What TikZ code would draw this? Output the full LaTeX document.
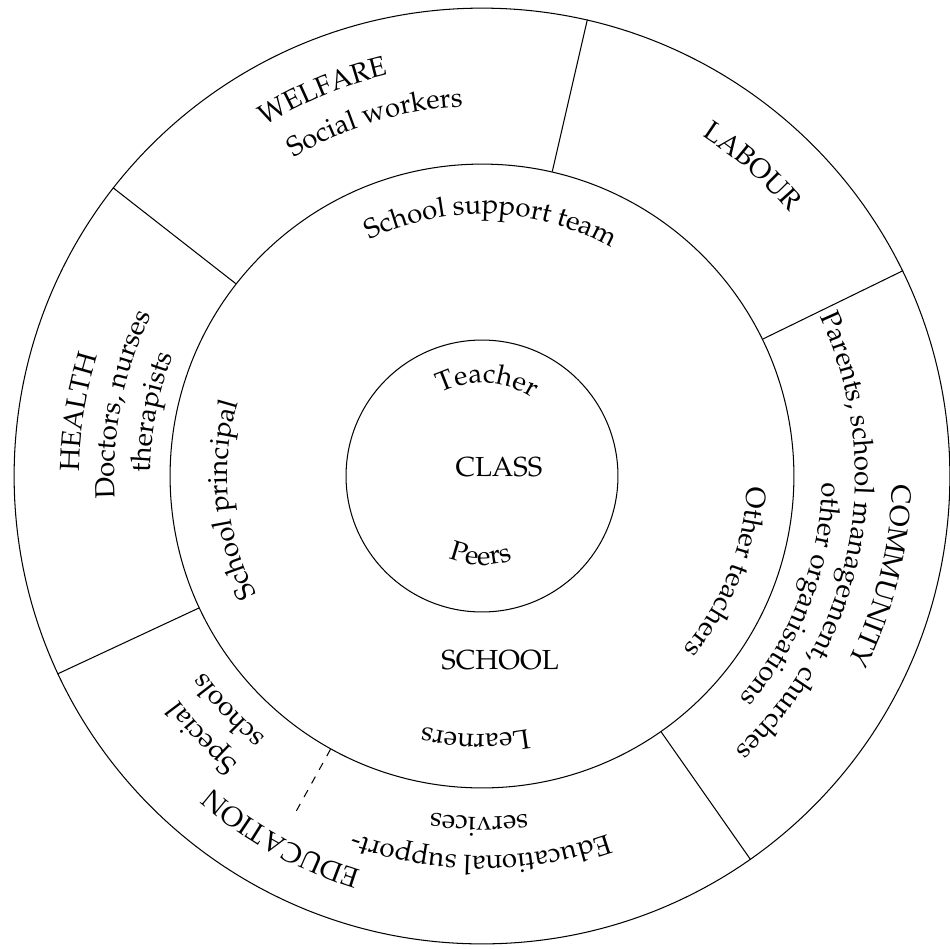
\documentclass[tikz,border=0pt]{standalone}
\usepackage[T1]{fontenc}
\usepackage{mathpazo}
\usetikzlibrary{decorations.text}
\AtBeginDocument{\fontsize{10.6}{12.7}\selectfont}

% text on a clockwise arc (letters point outwards): radius, middle angle, text
\newcommand{\cwtext}[3]{%
  \path[decorate,decoration={text along path,text align=center,text={#3}}]
    ({#2+60}:#1) arc[start angle={#2+60},end angle={#2-60},radius=#1];}
% text on an anticlockwise arc (letters point inwards)
\newcommand{\ccwtext}[3]{%
  \path[decorate,decoration={text along path,text align=center,text={#3}}]
    ({#2-60}:#1) arc[start angle={#2-60},end angle={#2+60},radius=#1];}

\begin{document}
\begin{tikzpicture}[x=0.0135cm,y=0.0135cm,
      ring/.style={circle,draw,inner sep=0pt}]

    \useasboundingbox (-482,-472) rectangle (468,476);

    \node[ring,minimum size=12.636cm] (outer) at (0,0) {};
    \node[ring,minimum size=8.424cm] (mid) at (0,0) {};
    \node[ring,minimum size=3.672cm] (class) at (0,0) {};

    % sectors of the outer ring
    \draw (mid.142.2) -- (outer.142.2);
    \draw (mid.77.1) -- (outer.77.1);
    \draw (mid.26.9) -- (outer.26.9);
    \draw (mid.305.6) -- (outer.305.6);
    \draw (mid.205.1) -- (outer.205.1);
    \coordinate (special) at (241:388);
    \draw[dashed] (mid.241) -- (special);

    \node (CLASS) at (17,9) {CLASS};
    \node (SCHOOL) at (18,-184) {SCHOOL};

    \cwtext{93}{87}{Teacher}
    \ccwtext{89}{269}{Peers}

    \cwtext{262}{88}{School support team}
    \cwtext{255}{185.5}{School principal}
    \cwtext{265}{-21.5}{Other teachers}
    \cwtext{258}{268.5}{Learners}

    \cwtext{412}{112.5}{WELFARE}
    \cwtext{370}{106.8}{Social workers}
    \cwtext{405}{48.9}{LABOUR}
    \cwtext{410}{-14}{COMMUNITY}
    \cwtext{373}{-11}{Parents, school management, churches}
    \cwtext{340}{-21}{other organisations}
    \cwtext{403}{171}{HEALTH}
    \cwtext{368}{168.8}{Doctors, nurses}
    \cwtext{332}{169}{therapists}
    \cwtext{413}{241}{EDUCATION}
    \cwtext{377}{223}{Special}
    \cwtext{340}{222.7}{schools}
    \cwtext{380}{269.8}{Educational support-}
    \cwtext{341}{269.5}{services}

\end{tikzpicture}
\end{document}
